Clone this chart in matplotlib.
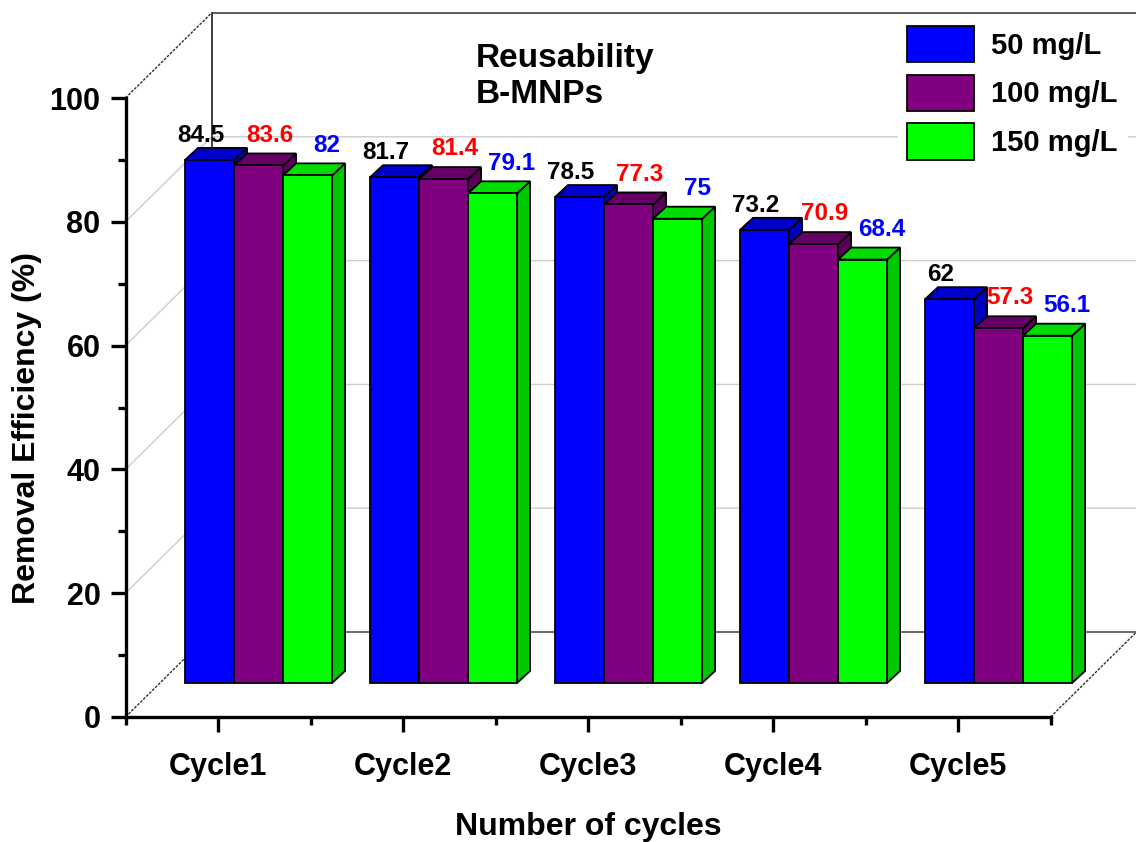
import numpy as np
import matplotlib
matplotlib.use("Agg")
import matplotlib.pyplot as plt
from matplotlib.patches import Polygon, Patch

plt.rcParams['font.family'] = ['Liberation Sans', 'DejaVu Sans']
plt.rcParams['font.weight'] = 'bold'

# data
cycles = ["Cycle1", "Cycle2", "Cycle3", "Cycle4", "Cycle5"]
series = ["50 mg/L", "100 mg/L", "150 mg/L"]
eff_50 = [84.5, 81.7, 78.5, 73.2, 62]
eff_100 = [83.6, 81.4, 77.3, 70.9, 57.3]
eff_150 = [82, 79.1, 75, 68.4, 56.1]
values = [eff_50, eff_100, eff_150]

face_colors = ["#0000ff", "#800080", "#00ff00"]
top_colors = ["#0000cc", "#660066", "#00dd00"]
side_colors = ["#0000c0", "#5a005a", "#00c800"]
label_colors = ["black", "#ff0000", "#0000ff"]

fig = plt.figure(figsize=(11.36, 8.42), dpi=100)
ax = fig.add_axes([125.5/1136, 125/842, 925/1136, 619/842])
x0, x1 = 0.5, 5.5
ax.set_xlim(x0, x1)
ax.set_ylim(0, 100)

# 3d box geometry (data units)
DX, DY = 0.465, 13.73        # depth of the box
ddx, ddy = 0.07, 1.94        # depth of each bar
base = 5.5                   # bars stand on the middle of the floor
bw = 0.265
off0 = -0.178

# walls and grid
dotted = dict(color="#303030", lw=1.0, ls=(0, (2, 1)), clip_on=False, zorder=1)
for v in [20, 40, 60, 80]:
  ax.plot([x0, x0+DX, x1+DX], [v, v+DY, v+DY], color="#cccccc", lw=1.0, clip_on=False, zorder=1)
ax.plot([x0, x0+DX], [0, DY], **dotted)
ax.plot([x1, x1+DX], [0, DY], **dotted)
ax.plot([x0+DX, x1+DX], [DY, DY], color="#505050", lw=1.2, clip_on=False, zorder=1)
ax.plot([x0, x0+DX], [100, 100+DY], **dotted)
ax.plot([x0+DX, x1+DX], [100+DY, 100+DY], color="#404040", lw=1.2, clip_on=False, zorder=11)
ax.plot([x0+DX, x0+DX], [DY, 100+DY], color="#202020", lw=1.2, clip_on=False, zorder=1)

# bars
for s in range(3):
  for k, v in enumerate(values[s]):
    x = k + 1 + off0 + s*bw
    y0, y1 = base, base + v
    z = 3 + s*0.1
    front = Polygon([(x, y0), (x+bw, y0), (x+bw, y1), (x, y1)], closed=True,
                    fc=face_colors[s], ec="black", lw=1.3, zorder=z)
    top = Polygon([(x, y1), (x+ddx, y1+ddy), (x+bw+ddx, y1+ddy), (x+bw, y1)], closed=True,
                  fc=top_colors[s], ec="black", lw=1.3, zorder=z)
    side = Polygon([(x+bw, y0), (x+bw+ddx, y0+ddy), (x+bw+ddx, y1+ddy), (x+bw, y1)], closed=True,
                   fc=side_colors[s], ec="black", lw=1.3, zorder=z)
    for p in (side, top, front):
      p.set_clip_on(False)
      ax.add_patch(p)

# value labels
lab_dx = [-0.049, 0.06, 0.105]
lab_dy = [1.0, 1.9, 1.9]
for s in range(3):
  for k, v in enumerate(values[s]):
    x = k + 1 + off0 + s*bw + bw/2 + lab_dx[s]
    ax.text(x, base + v + ddy + lab_dy[s], f"{v:g}", ha="center", va="baseline",
            fontsize=17.5, fontweight="bold", color=label_colors[s], zorder=6, clip_on=False)

# axes
for sp in ["top", "right"]:
  ax.spines[sp].set_visible(False)
for sp in ["left", "bottom"]:
  ax.spines[sp].set_linewidth(2.4)
ax.set_xticks(range(1, 6))
ax.set_xticklabels(cycles)
ax.set_xticks(np.arange(0.5, 5.6, 1), minor=True)
ax.set_yticks(range(0, 101, 20))
ax.set_yticks(range(10, 100, 20), minor=True)
ax.tick_params(which="major", length=11, width=2.4, labelsize=22, pad=7)
ax.tick_params(which="minor", length=6, width=2.4)
ax.tick_params(axis="x", which="major", pad=14)
ax.set_ylabel("Removal Efficiency (%)", fontsize=23, fontweight="bold")
ax.yaxis.set_label_coords(-0.09, 0.467)
ax.set_xlabel("Number of cycles", fontsize=23, fontweight="bold", labelpad=22)
ax.patch.set_visible(False)

# caption
fig.text(476/1136, 1 - 43/842, "Reusability\nB-MNPs", ha="left", va="top",
         fontsize=24, fontweight="bold", linespacing=1.2)

# legend
handles = [Patch(fc=face_colors[s], ec="black", lw=1.3) for s in range(3)]
leg = ax.legend(handles, series, loc="upper left", bbox_to_anchor=(898/1136, 1 - 17/842),
                bbox_transform=fig.transFigure, fontsize=21, frameon=True,
                handlelength=2.3, handleheight=1.55, handletextpad=0.6,
                labelspacing=0.42, borderpad=0.3, borderaxespad=0)
leg.get_frame().set_edgecolor("white")
leg.get_frame().set_facecolor("white")
leg.get_frame().set_alpha(1)
leg.get_frame().set_boxstyle("square", pad=0)
leg.set_zorder(10)

fig.savefig("out.png", dpi=100)
